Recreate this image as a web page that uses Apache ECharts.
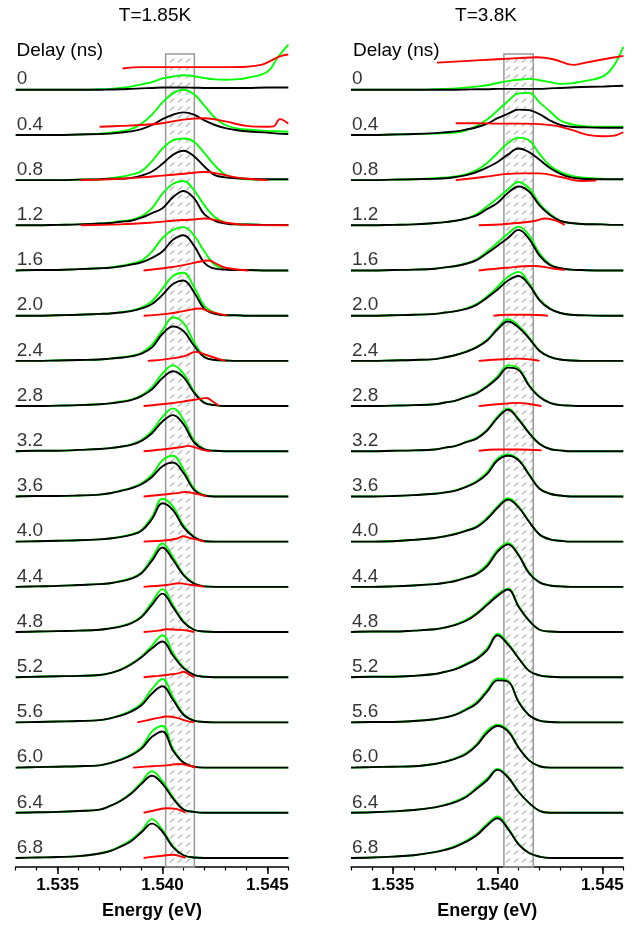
<!DOCTYPE html>
<html>
<head>
<meta charset="utf-8">
<title>Time-resolved spectra</title>
<script src="https://cdn.jsdelivr.net/npm/echarts@6/dist/echarts.min.js"></script>
<style>
  html, body { margin: 0; padding: 0; background: #fff; }
  #chart { width: 636px; height: 925px; }
</style>
</head>
<body>
<div id="chart"></div>
<script>
// energy grid (eV) shared by the black / green spectra
const energy = [1.533, 1.534, 1.535, 1.536, 1.537, 1.5375, 1.538, 1.5385, 1.539, 1.5395, 1.540,
  1.5405, 1.541, 1.5415, 1.542, 1.5425, 1.543, 1.5435, 1.544, 1.545, 1.5455, 1.546];
const delays = ['0', '0.4', '0.8', '1.2', '1.6', '2.0', '2.4', '2.8', '3.2', '3.6',
  '4.0', '4.4', '4.8', '5.2', '5.6', '6.0', '6.4', '6.8'];
const xTicks = [1.535, 1.540, 1.545];
const boxCold = [1.54015, 1.54152];
const boxWarm = [1.5403, 1.5417];
const boxTop = 17.99;

// T = 1.85 K
const blackCold = [
  [0,0,0,0,0,0.005,0.01,0.02,0.03,0.04,0.05,0.05,0.05,0.045,0.04,0.04,0.04,0.04,0.04,0.05,0.05,0.05],
  [0,0,0,0.01,0.02,0.03,0.05,0.08,0.13,0.22,0.35,0.45,0.5,0.45,0.32,0.22,0.15,0.11,0.08,0.05,0.03,0.02],
  [0,0,0,0.01,0.02,0.03,0.03,0.05,0.1,0.19,0.36,0.56,0.65,0.53,0.3,0.11,0.06,0.04,0.03,0.02,0.02,0.02],
  [0,0,0.01,0.02,0.04,0.05,0.08,0.1,0.17,0.27,0.38,0.62,0.76,0.6,0.24,0.1,0.04,0.02,0.02,0.01,0.01,0.01],
  [0,0.01,0.01,0.03,0.05,0.06,0.09,0.13,0.18,0.28,0.42,0.68,0.78,0.55,0.17,0.04,0.02,0.01,0.01,0,0,0],
  [0,0,0.01,0.02,0.04,0.05,0.07,0.1,0.16,0.26,0.46,0.7,0.78,0.52,0.15,0.04,0.01,0.01,0,0,0,0],
  [0,0,0.01,0.02,0.03,0.05,0.07,0.1,0.16,0.3,0.6,0.76,0.66,0.34,0.08,0.02,0.01,0,0,0,0,0],
  [0,0,0.01,0.02,0.04,0.06,0.09,0.13,0.22,0.37,0.62,0.77,0.64,0.3,0.07,0.02,0,0,0,0,0,0],
  [0,0.01,0.01,0.03,0.05,0.07,0.1,0.14,0.23,0.4,0.66,0.8,0.6,0.2,0.04,0.01,0,0,0,0,0,0],
  [0,0.01,0.01,0.02,0.04,0.07,0.12,0.18,0.27,0.43,0.67,0.75,0.52,0.15,0.02,0,0,0,0,0,0,0],
  [0,0.01,0.02,0.03,0.05,0.07,0.1,0.15,0.24,0.5,0.85,0.7,0.32,0.1,0.01,0,0,0,0,0,0,0],
  [0,0.01,0.02,0.04,0.06,0.08,0.12,0.18,0.3,0.58,0.87,0.6,0.26,0.07,0.01,0,0,0,0,0,0,0],
  [0,0.01,0.02,0.03,0.05,0.08,0.12,0.19,0.33,0.6,0.85,0.55,0.22,0.05,0.01,0,0,0,0,0,0,0],
  [0,0.01,0.02,0.03,0.05,0.09,0.16,0.28,0.44,0.64,0.79,0.48,0.2,0.05,0.01,0,0,0,0,0,0,0],
  [0,0.01,0.02,0.03,0.05,0.09,0.15,0.24,0.38,0.64,0.8,0.5,0.17,0.04,0.01,0,0,0,0,0,0,0],
  [0,0.01,0.02,0.03,0.05,0.1,0.17,0.27,0.42,0.68,0.8,0.38,0.11,0.02,0,0,0,0,0,0,0,0],
  [0,0.01,0.02,0.04,0.07,0.15,0.26,0.42,0.64,0.82,0.64,0.32,0.07,0.02,0,0,0,0,0,0,0,0],
  [0,0.01,0.02,0.04,0.1,0.15,0.25,0.37,0.57,0.76,0.58,0.24,0.06,0.01,0,0,0,0,0,0,0,0]
];
const greenCold = [
  [0,0,0,0,0.01,0.02,0.04,0.07,0.12,0.17,0.25,0.29,0.32,0.3,0.26,0.23,0.22,0.23,0.26,0.4,0.72,1.0],
  [0,0,0,0.01,0.03,0.05,0.08,0.13,0.25,0.45,0.72,0.92,1.0,0.9,0.65,0.38,0.22,0.15,0.12,0.09,0.08,0.07],
  [0,0,0,0.01,0.02,0.04,0.07,0.12,0.2,0.42,0.7,0.88,0.92,0.85,0.6,0.32,0.12,0.05,0.02,0.01,0.01,0.01],
  [0,0,0.01,0.02,0.04,0.06,0.09,0.12,0.2,0.38,0.7,0.92,0.98,0.78,0.44,0.18,0.06,0.02,0.02,0.01,0.01,0.01],
  [0,0.01,0.01,0.03,0.05,0.07,0.1,0.15,0.22,0.42,0.72,0.9,0.96,0.78,0.42,0.12,0.04,0.01,0.01,0,0,0],
  [0,0,0.01,0.02,0.04,0.05,0.08,0.11,0.18,0.32,0.6,0.88,0.95,0.64,0.22,0.06,0.01,0.01,0,0,0,0],
  [0,0,0.01,0.02,0.03,0.05,0.08,0.11,0.18,0.36,0.68,0.96,0.84,0.42,0.1,0.02,0.01,0,0,0,0,0],
  [0,0,0.01,0.02,0.04,0.06,0.1,0.14,0.24,0.42,0.72,0.9,0.72,0.33,0.08,0.02,0,0,0,0,0,0],
  [0,0.01,0.01,0.03,0.05,0.07,0.1,0.15,0.25,0.45,0.76,0.95,0.7,0.24,0.05,0.01,0,0,0,0,0,0],
  [0,0.01,0.01,0.02,0.04,0.07,0.13,0.19,0.29,0.48,0.8,0.9,0.6,0.18,0.03,0,0,0,0,0,0,0],
  [0,0.01,0.02,0.03,0.05,0.07,0.11,0.16,0.26,0.55,0.95,0.78,0.36,0.11,0.01,0,0,0,0,0,0,0],
  [0,0.01,0.02,0.04,0.06,0.08,0.13,0.19,0.32,0.64,0.96,0.66,0.28,0.08,0.01,0,0,0,0,0,0,0],
  [0,0.01,0.02,0.03,0.05,0.08,0.13,0.2,0.35,0.66,0.95,0.6,0.24,0.05,0.01,0,0,0,0,0,0,0],
  [0,0.01,0.02,0.03,0.05,0.09,0.17,0.3,0.46,0.7,0.93,0.54,0.22,0.05,0.01,0,0,0,0,0,0,0],
  [0,0.01,0.02,0.03,0.05,0.09,0.16,0.26,0.42,0.74,0.96,0.56,0.19,0.04,0.01,0,0,0,0,0,0,0],
  [0,0.01,0.02,0.03,0.05,0.1,0.18,0.29,0.45,0.8,0.92,0.42,0.12,0.02,0,0,0,0,0,0,0,0],
  [0,0.01,0.02,0.04,0.07,0.15,0.27,0.44,0.68,0.92,0.7,0.35,0.08,0.02,0,0,0,0,0,0,0,0],
  [0,0.01,0.02,0.04,0.1,0.16,0.26,0.4,0.6,0.86,0.62,0.26,0.06,0.01,0,0,0,0,0,0,0,0]
];
const redCold = [
  [[1.5381,0.47],[1.539,0.5],[1.540,0.5],[1.541,0.5],[1.542,0.5],[1.543,0.5],[1.544,0.51],[1.5447,0.55],[1.5452,0.65],[1.5456,0.74],[1.546,0.78]],
  [[1.537,0.18],[1.538,0.2],[1.539,0.22],[1.540,0.26],[1.541,0.34],[1.542,0.37],[1.543,0.3],[1.544,0.2],[1.545,0.18],[1.5453,0.19],[1.5456,0.35],[1.546,0.25]],
  [[1.5361,0],[1.537,0.01],[1.538,0.03],[1.539,0.06],[1.540,0.1],[1.541,0.14],[1.542,0.18],[1.5428,0.13],[1.5435,0.06],[1.544,0.03],[1.545,0]],
  [[1.5361,0],[1.538,0.02],[1.5395,0.06],[1.5405,0.1],[1.5415,0.13],[1.542,0.15],[1.5425,0.12],[1.543,0.06],[1.544,0.01],[1.546,0]],
  [[1.5391,0],[1.5402,0.06],[1.541,0.12],[1.5418,0.2],[1.5422,0.22],[1.5426,0.14],[1.543,0.06],[1.5441,0]],
  [[1.5391,0],[1.5402,0.04],[1.541,0.1],[1.5418,0.16],[1.5422,0.1],[1.5427,0.04],[1.5431,0]],
  [[1.5393,0],[1.5402,0.04],[1.541,0.1],[1.5416,0.2],[1.5421,0.13],[1.5427,0.04],[1.543,0]],
  [[1.5391,0],[1.5402,0.05],[1.541,0.1],[1.5418,0.16],[1.5421,0.18],[1.5424,0.1],[1.5427,0]],
  [[1.5391,0],[1.5402,0.05],[1.541,0.1],[1.5412,0.12],[1.5416,0.08],[1.5419,0.03],[1.5423,0]],
  [[1.5391,0],[1.5402,0.05],[1.5408,0.08],[1.5411,0.1],[1.5415,0.07],[1.5421,0]],
  [[1.5391,0],[1.5402,0.03],[1.5407,0.07],[1.541,0.12],[1.5413,0.08],[1.5417,0.04],[1.542,0]],
  [[1.5391,0],[1.5402,0.04],[1.5408,0.08],[1.5411,0.06],[1.5416,0.03],[1.542,0]],
  [[1.5391,0],[1.5398,0.03],[1.5402,0.06],[1.5407,0.05],[1.5411,0.04],[1.5415,0]],
  [[1.5391,0],[1.5398,0.03],[1.5402,0.05],[1.5408,0.09],[1.541,0.12],[1.5413,0.05],[1.5415,0]],
  [[1.5388,0],[1.5393,0.05],[1.5398,0.1],[1.5402,0.13],[1.5407,0.1],[1.5411,0.04],[1.5415,0]],
  [[1.5386,0],[1.5395,0.03],[1.5402,0.05],[1.5408,0.08],[1.5413,0.04],[1.5416,0]],
  [[1.5391,0],[1.5396,0.05],[1.5402,0.1],[1.5407,0.08],[1.5411,0]],
  [[1.5391,0],[1.5396,0.03],[1.540,0.05],[1.5405,0.07],[1.5409,0.03],[1.5411,0]]
];

// T = 3.8 K
const blackWarm = [
  [0,0,0,0,0,0,0,0.005,0.01,0.01,0.02,0.02,0.02,0.02,0.02,0.03,0.04,0.05,0.06,0.07,0.08,0.09],
  [0,0,0.01,0.02,0.04,0.06,0.08,0.12,0.17,0.25,0.37,0.47,0.56,0.55,0.46,0.32,0.22,0.18,0.17,0.16,0.16,0.16],
  [0,0,0.01,0.02,0.03,0.04,0.07,0.11,0.18,0.28,0.4,0.57,0.7,0.62,0.45,0.27,0.14,0.06,0.03,0.02,0.02,0.02],
  [0,0,0.01,0.02,0.05,0.07,0.1,0.15,0.22,0.36,0.5,0.72,0.86,0.75,0.44,0.23,0.1,0.05,0.03,0.02,0.01,0.01],
  [0,0,0.01,0.02,0.04,0.07,0.1,0.15,0.23,0.38,0.55,0.72,0.9,0.7,0.33,0.12,0.05,0.02,0.01,0,0,0],
  [0,0,0.01,0.02,0.04,0.07,0.1,0.15,0.24,0.4,0.58,0.78,0.88,0.68,0.34,0.15,0.06,0.02,0.01,0,0,0],
  [0,0,0.01,0.02,0.04,0.08,0.13,0.2,0.3,0.45,0.7,0.87,0.74,0.5,0.22,0.09,0.03,0.01,0,0,0,0],
  [0,0,0.01,0.02,0.04,0.08,0.12,0.2,0.28,0.43,0.62,0.85,0.8,0.45,0.2,0.07,0.02,0.01,0,0,0,0],
  [0,0,0.01,0.02,0.04,0.08,0.12,0.2,0.28,0.46,0.74,0.92,0.7,0.4,0.16,0.05,0.02,0,0,0,0,0],
  [0,0,0.01,0.03,0.06,0.09,0.13,0.21,0.32,0.5,0.8,0.9,0.8,0.48,0.17,0.06,0.02,0,0,0,0,0],
  [0,0,0.01,0.04,0.08,0.12,0.17,0.24,0.32,0.5,0.75,0.93,0.76,0.44,0.16,0.05,0.02,0,0,0,0,0],
  [0,0,0.01,0.03,0.06,0.09,0.13,0.2,0.28,0.46,0.78,0.94,0.7,0.3,0.1,0.03,0.01,0,0,0,0,0],
  [0,0.01,0.01,0.03,0.06,0.1,0.16,0.25,0.4,0.6,0.8,0.94,0.56,0.25,0.05,0.01,0,0,0,0,0,0],
  [0,0.01,0.01,0.03,0.07,0.12,0.18,0.28,0.4,0.6,0.93,0.72,0.42,0.14,0.04,0.01,0,0,0,0,0,0],
  [0,0.01,0.01,0.03,0.07,0.11,0.17,0.28,0.42,0.68,0.93,0.9,0.45,0.16,0.04,0.01,0,0,0,0,0,0],
  [0,0.01,0.02,0.03,0.08,0.13,0.2,0.3,0.49,0.77,0.92,0.8,0.44,0.16,0.03,0,0,0,0,0,0,0],
  [0,0.01,0.03,0.06,0.12,0.17,0.24,0.35,0.53,0.72,0.95,0.78,0.46,0.22,0.04,0,0,0,0,0,0,0],
  [0,0.01,0.03,0.06,0.13,0.18,0.25,0.36,0.5,0.72,0.88,0.64,0.3,0.11,0.03,0,0,0,0,0,0,0]
];
const greenWarm = [
  [0,0,0,0,0.01,0.02,0.03,0.05,0.07,0.1,0.15,0.19,0.22,0.24,0.21,0.17,0.13,0.14,0.18,0.29,0.5,0.95],
  [0,0,0.01,0.02,0.03,0.04,0.05,0.1,0.2,0.34,0.54,0.75,0.92,0.93,0.72,0.52,0.32,0.24,0.2,0.18,0.18,0.18],
  [0,0,0.01,0.02,0.04,0.06,0.08,0.13,0.22,0.38,0.6,0.82,0.94,0.88,0.58,0.32,0.18,0.1,0.06,0.03,0.02,0.02],
  [0,0,0.01,0.02,0.05,0.07,0.1,0.15,0.25,0.42,0.6,0.8,0.96,0.82,0.48,0.25,0.1,0.05,0.03,0.02,0.01,0.01],
  [0,0,0.01,0.02,0.04,0.07,0.1,0.16,0.25,0.42,0.62,0.82,0.97,0.78,0.38,0.14,0.05,0.02,0.01,0,0,0],
  [0,0,0.01,0.02,0.04,0.07,0.1,0.16,0.26,0.43,0.64,0.86,0.97,0.72,0.36,0.16,0.06,0.02,0.01,0,0,0],
  [0,0,0.01,0.02,0.04,0.08,0.13,0.21,0.31,0.47,0.73,0.92,0.78,0.52,0.23,0.09,0.03,0.01,0,0,0,0],
  [0,0,0.01,0.02,0.04,0.08,0.12,0.21,0.3,0.45,0.66,0.9,0.84,0.47,0.21,0.07,0.02,0.01,0,0,0,0],
  [0,0,0.01,0.02,0.04,0.08,0.12,0.21,0.3,0.48,0.77,0.95,0.72,0.42,0.17,0.05,0.02,0,0,0,0,0],
  [0,0,0.01,0.03,0.06,0.09,0.14,0.22,0.34,0.54,0.84,0.93,0.82,0.5,0.18,0.06,0.02,0,0,0,0,0],
  [0,0,0.01,0.04,0.08,0.12,0.18,0.25,0.34,0.53,0.78,0.96,0.78,0.45,0.16,0.05,0.02,0,0,0,0,0],
  [0,0,0.01,0.03,0.06,0.09,0.14,0.21,0.3,0.5,0.82,0.97,0.72,0.32,0.1,0.03,0.01,0,0,0,0,0],
  [0,0.01,0.01,0.03,0.06,0.1,0.17,0.27,0.42,0.63,0.84,0.96,0.58,0.26,0.05,0.01,0,0,0,0,0,0],
  [0,0.01,0.01,0.03,0.07,0.12,0.19,0.3,0.42,0.64,0.96,0.75,0.43,0.14,0.04,0.01,0,0,0,0,0,0],
  [0,0.01,0.01,0.03,0.07,0.11,0.18,0.3,0.45,0.72,0.97,0.92,0.47,0.16,0.04,0.01,0,0,0,0,0,0],
  [0,0.01,0.02,0.03,0.08,0.13,0.21,0.32,0.52,0.82,0.95,0.83,0.45,0.16,0.03,0,0,0,0,0,0,0],
  [0,0.01,0.03,0.06,0.12,0.18,0.26,0.37,0.56,0.76,0.97,0.8,0.47,0.22,0.04,0,0,0,0,0,0,0],
  [0,0.01,0.03,0.06,0.13,0.19,0.27,0.38,0.53,0.75,0.92,0.66,0.31,0.11,0.03,0,0,0,0,0,0,0]
];
const redWarm = [
  [[1.5371,0.6],[1.539,0.65],[1.541,0.7],[1.5419,0.72],[1.5427,0.67],[1.5436,0.55],[1.5442,0.6],[1.545,0.67],[1.546,0.75]],
  [[1.538,0.26],[1.539,0.26],[1.540,0.25],[1.541,0.25],[1.542,0.24],[1.5428,0.2],[1.5436,0.1],[1.5443,0.0],[1.545,-0.03],[1.5455,-0.02],[1.546,0.06]],
  [[1.538,0],[1.5393,0.07],[1.541,0.15],[1.542,0.15],[1.543,0.07],[1.544,-0.02],[1.5447,-0.01]],
  [[1.5391,0],[1.5404,0.03],[1.5417,0.09],[1.5423,0.15],[1.5428,0.1],[1.5432,0.01]],
  [[1.5391,0],[1.5404,0.06],[1.5417,0.1],[1.5427,0.04],[1.5432,0.01]],
  [[1.5398,0],[1.5405,0.02],[1.5415,0.02],[1.5424,0]],
  [[1.5391,0],[1.540,0.03],[1.541,0.05],[1.5416,0.03],[1.542,0]],
  [[1.5391,0],[1.540,0.04],[1.541,0.07],[1.5416,0.04],[1.5421,0]],
  [[1.5391,0.01],[1.540,0.04],[1.541,0.04],[1.5421,0.02]]
];

const font = '"Liberation Sans", Arial, sans-serif';
const base = (i) => 17.2 - i;

// hatch tile for the shaded window
const hatch = document.createElement('canvas');
hatch.width = 8;
hatch.height = 8;
const hc = hatch.getContext('2d');
hc.strokeStyle = '#808080';
hc.lineWidth = 1;
hc.beginPath();
hc.moveTo(2, 6.5);
hc.lineTo(6, 2.5);
hc.stroke();

function line(g, data, color, z) {
  return {
    type: 'line',
    xAxisIndex: g * 2,
    yAxisIndex: g,
    data,
    symbol: 'none',
    smooth: 0.4,
    z,
    silent: true,
    lineStyle: { color, width: 1.9 },
  };
}

function panel(g, green, black, red, box) {
  const out = [];
  green.forEach((v, i) => out.push(line(g, energy.map((e, k) => [e, base(i) + v[k]]), '#00ff00', 2)));
  black.forEach((v, i) => out.push(line(g, energy.map((e, k) => [e, base(i) + v[k]]), '#000000', 3)));
  red.forEach((pts, i) => out.push(line(g, pts.map((p) => [p[0], base(i) + p[1]]), '#ff0000', 4)));
  out.push({
    type: 'scatter',
    xAxisIndex: g * 2,
    yAxisIndex: g,
    symbolSize: 0,
    z: 1,
    silent: true,
    data: delays.map((d, i) => [1.533, base(i), d]),
    label: {
      show: true,
      position: 'right',
      distance: 0,
      offset: [1, -10.5],
      formatter: (p) => p.data[2],
      fontSize: 19,
      color: '#000',
      fontFamily: font,
    },
    markArea: {
      silent: true,
      label: { show: false },
      itemStyle: {
        color: { image: hatch, repeat: 'repeat' },
        borderColor: '#999',
        borderWidth: 1.5,
        opacity: 1,
      },
      data: [[{ coord: [box[0], 0] }, { coord: [box[1], boxTop] }]],
    },
  });
  return out;
}

function axes(g) {
  return [
    {
      type: 'value',
      gridIndex: g,
      min: 1.533,
      max: 1.546,
      position: 'bottom',
      axisLine: { show: true, onZero: false, lineStyle: { color: '#000', width: 1.5 } },
      axisTick: { show: true, customValues: xTicks, length: 7, lineStyle: { color: '#000', width: 1.5 } },
      axisLabel: {
        customValues: xTicks,
        formatter: (v) => v.toFixed(3),
        fontSize: 17,
        fontWeight: 'bold',
        color: '#000',
        margin: 10,
        fontFamily: font,
      },
      splitLine: { show: false },
      name: 'Energy (eV)',
      nameLocation: 'middle',
      nameGap: 35,
      nameTextStyle: { fontSize: 18, fontWeight: 'bold', color: '#000', fontFamily: font },
    },
    {
      type: 'value',
      gridIndex: g,
      min: 1.533,
      max: 1.546,
      interval: 0.001,
      position: 'bottom',
      axisLine: { show: false, onZero: false },
      axisTick: { show: true, length: 3.5, lineStyle: { color: '#000', width: 1.2 } },
      axisLabel: { show: false },
      splitLine: { show: false },
    },
  ];
}

const chart = echarts.init(document.getElementById('chart'));
chart.setOption({
  animation: false,
  backgroundColor: '#fff',
  grid: [
    { left: 15.7, top: 31, width: 272.6, height: 839.7 },
    { left: 351, top: 31, width: 272.3, height: 839.7 },
  ],
  xAxis: [...axes(0), ...axes(1)],
  yAxis: [
    { type: 'value', gridIndex: 0, min: 0, max: 18.5, show: false },
    { type: 'value', gridIndex: 1, min: 0, max: 18.5, show: false },
  ],
  graphic: [
    { type: 'text', x: 155, y: 16, style: { text: 'T=1.85K', font: '19px ' + font, fill: '#000', textAlign: 'center', textVerticalAlign: 'middle' } },
    { type: 'text', x: 486, y: 16, style: { text: 'T=3.8K', font: '19px ' + font, fill: '#000', textAlign: 'center', textVerticalAlign: 'middle' } },
    { type: 'text', x: 16.5, y: 51, style: { text: 'Delay (ns)', font: '19px ' + font, fill: '#000', textAlign: 'left', textVerticalAlign: 'middle' } },
    { type: 'text', x: 353, y: 51, style: { text: 'Delay (ns)', font: '19px ' + font, fill: '#000', textAlign: 'left', textVerticalAlign: 'middle' } },
  ],
  series: [
    ...panel(0, greenCold, blackCold, redCold, boxCold),
    ...panel(1, greenWarm, blackWarm, redWarm, boxWarm),
  ],
});
</script>
</body>
</html>
